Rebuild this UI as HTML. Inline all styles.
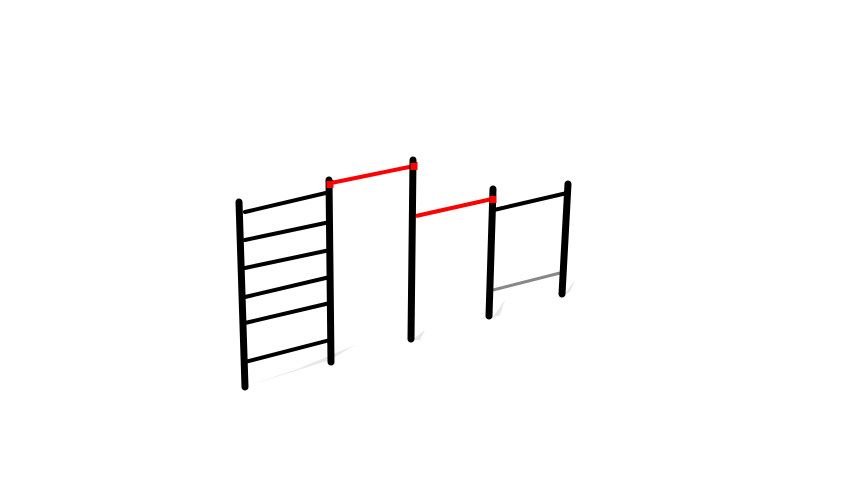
<!DOCTYPE html>
<html><head><style>html,body{margin:0;padding:0;background:#fff}svg{display:block}</style></head>
<body>
<svg width="866" height="500" viewBox="0 0 866 500" xmlns="http://www.w3.org/2000/svg">
<g fill="#e8e8e8">
<polygon points="250,385 330,360 355,345 300,368"/>
<polygon points="412,340 425,330 420,340"/>
<polygon points="492,318 505,300 500,315"/>
<polygon points="563,296 575,280 570,292"/>
</g>
<g stroke="#000" stroke-width="4" stroke-linecap="round">
<line x1="245" y1="212" x2="330" y2="192"/>
<line x1="245" y1="240" x2="330" y2="222"/>
<line x1="245" y1="268" x2="330" y2="250"/>
<line x1="245" y1="297" x2="330" y2="277"/>
<line x1="245" y1="323" x2="330" y2="303"/>
<line x1="245" y1="362" x2="330" y2="340"/>
<line x1="494" y1="210" x2="567" y2="193"/>
</g>
<line x1="493" y1="290" x2="560" y2="273" stroke="#888" stroke-width="3"/>
<g stroke="#f00" stroke-width="4">
<line x1="331" y1="183" x2="414" y2="166"/>
<line x1="416" y1="216" x2="492" y2="199"/>
</g>
<g stroke="#f00" stroke-width="7">
<line x1="414" y1="162" x2="414" y2="170"/>
<line x1="493" y1="195" x2="493" y2="203"/>
<line x1="330" y1="180" x2="330" y2="188"/>
</g>
<g stroke="#000" stroke-width="7" stroke-linecap="round">
<line x1="239" y1="202" x2="245" y2="387"/>
<line x1="329" y1="180" x2="331" y2="362"/>
<line x1="413" y1="160" x2="411" y2="339"/>
<line x1="493" y1="189" x2="489" y2="316"/>
<line x1="568" y1="184" x2="562" y2="294"/>
</g>
<g stroke="#f00" stroke-width="7">
<line x1="414" y1="163" x2="414" y2="170"/>
<line x1="493" y1="196" x2="493" y2="203"/>
<line x1="330" y1="181" x2="330" y2="188"/>
</g>
</svg>
</body></html>
